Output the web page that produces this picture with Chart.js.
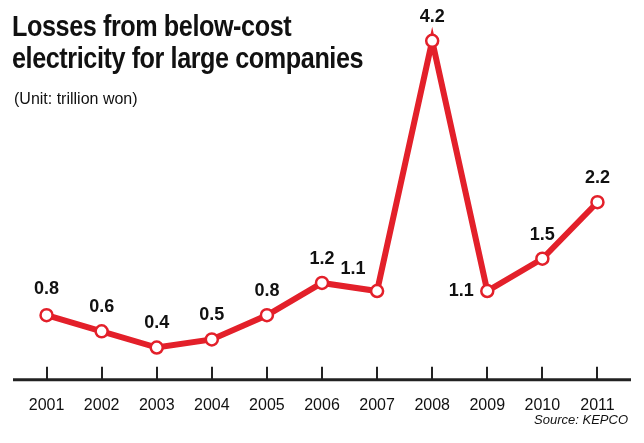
<!DOCTYPE html>
<html><head><meta charset="utf-8">
<script src="https://cdn.jsdelivr.net/npm/chart.js@4"></script>
<style>
body{margin:0;background:#fff;width:644px;height:443px;overflow:hidden;position:relative;font-family:"Liberation Sans",Arial,sans-serif}
#t{position:absolute;left:12px;top:10px;font-family:"Liberation Sans Narrow","Liberation Sans",sans-serif;font-weight:bold;font-size:30px;line-height:32px;color:#111;transform:scaleX(0.84);transform-origin:left top;letter-spacing:-0.5px}
#u{position:absolute;left:14px;top:90px;font-size:16px;color:#111}
#s{position:absolute;right:16px;top:412px;font-size:13px;font-style:italic;color:#111}
canvas{position:absolute;left:0;top:0}
</style></head><body>
<canvas id="c" width="644" height="443"></canvas>
<div id="t">Losses from below-cost<br>electricity for large companies</div>
<div id="u">(Unit: trillion won)</div>
<div id="s">Source: KEPCO</div>
<script>
const years=["2001","2002","2003","2004","2005","2006","2007","2008","2009","2010","2011"];
const losses=[0.8,0.6,0.4,0.5,0.8,1.2,1.1,4.2,1.1,1.5,2.2];
const labelDx=[0,0,0,0,0,0,-24,0,-26,0,0];
const labelDy=[-26,-24,-24,-24,-24,-24,-22,-24,0,-24,-24];
const deco={id:'deco',afterDatasetsDraw(ch){
  const c=ch.ctx,x=ch.scales.x,y=ch.scales.y,b=y.getPixelForValue(0);
  c.save();c.strokeStyle='#222';c.lineWidth=3;
  c.beginPath();c.moveTo(13,b);c.lineTo(631,b);c.stroke();
  c.lineWidth=2;
  years.forEach((v,i)=>{const px=Math.round(x.getPixelForValue(i));c.beginPath();c.moveTo(px,b-13);c.lineTo(px,b);c.stroke();});
  c.fillStyle='#111';c.font='bold 18px "Liberation Sans Narrow","Liberation Sans",sans-serif';c.textAlign='center';c.textBaseline='middle';
  ch.getDatasetMeta(0).data.forEach((p,i)=>{c.fillText(losses[i].toFixed(1),p.x+labelDx[i],p.y+labelDy[i]);});
  c.restore();}};
new Chart(document.getElementById('c'),{type:'line',
 data:{labels:years,datasets:[{data:losses,borderColor:'#e3202a',borderWidth:6,pointRadius:6,pointBorderWidth:2.5,pointBackgroundColor:'#fff',pointBorderColor:'#e3202a',tension:0}]},
 options:{responsive:false,animation:false,layout:{padding:{left:19,right:19,top:2,bottom:20}},
  plugins:{legend:{display:false},tooltip:{enabled:false}},
  scales:{x:{offset:true,grid:{display:false},border:{display:false},ticks:{color:'#111',font:{size:16,family:'"Liberation Sans",Arial'},padding:8,maxRotation:0}},
   y:{display:false,min:0,max:4.6}}},
 plugins:[deco]});
</script></body></html>
